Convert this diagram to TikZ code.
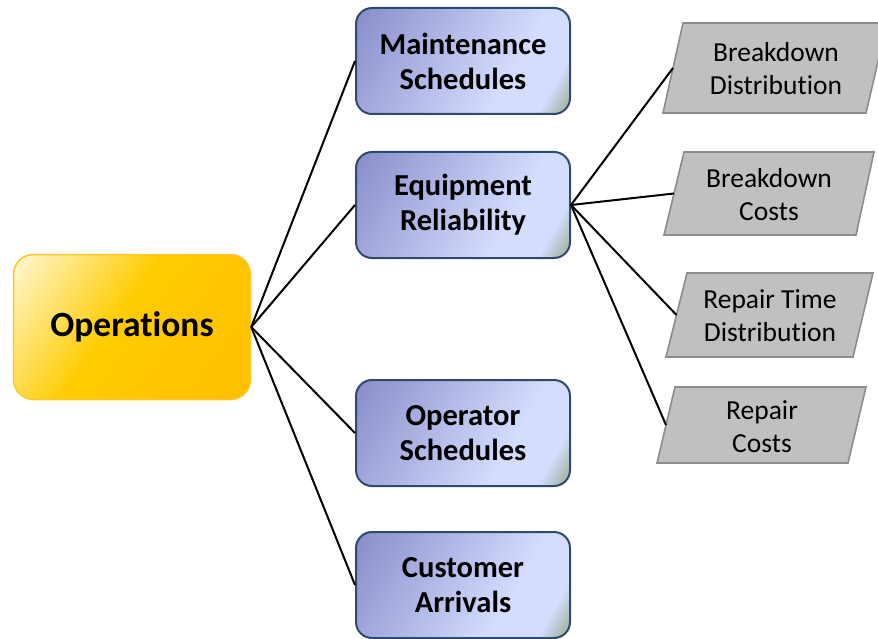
\documentclass[tikz,border=0pt]{standalone}
\usepackage{fontspec}
\setmainfont[Ligatures=NoCommon]{Carlito}
\definecolor{bdark}{HTML}{888DCA}
\definecolor{blight}{HTML}{D4DDFE}
\definecolor{bgreen}{HTML}{9FB29E}
\definecolor{bborder}{HTML}{2F4A6C}
\definecolor{ylight}{HTML}{FFF4C4}
\definecolor{ymid}{HTML}{FFCC00}
\definecolor{ydark}{HTML}{FFC000}
\definecolor{yborder}{HTML}{FFC72A}
\definecolor{gfill}{HTML}{C0C0C0}
\definecolor{gborder}{HTML}{8C8C8C}
\pgfdeclarehorizontalshading{blueshade}{100bp}{color(0bp)=(bdark); color(16bp)=(bdark); color(64bp)=(blight); color(76bp)=(blight); color(83bp)=(bgreen); color(100bp)=(bgreen)}
\pgfdeclarehorizontalshading{yellowshade}{100bp}{color(0bp)=(ylight); color(18bp)=(ylight); color(46bp)=(ymid); color(78bp)=(ydark); color(100bp)=(ydark)}
\tikzset{
  opsbox/.style={draw=yborder, line width=1.5pt, rounded corners=20pt, shading=yellowshade, shading angle=-35,
    minimum width=237pt, minimum height=145pt, align=center, font=\fontsize{35.5}{40}\selectfont\bfseries},
  bluebox/.style={draw=bborder, line width=2pt, rounded corners=16pt, shading=blueshade, shading angle=-30,
    minimum width=214pt, minimum height=106pt, align=center, font=\fontsize{30.5}{35}\selectfont\bfseries},
  gshape/.style={fill=gfill, draw=gborder, line width=1.6pt},
  gtext/.style={align=center, font=\fontsize{27.5}{33}\selectfont},
  conn/.style={line width=2pt, black}
}
\begin{document}
\begin{tikzpicture}[x=1pt,y=-1pt]
\useasboundingbox (0,0) rectangle (878,639);
\clip (0,0) rectangle (878,639);
% central node
\node[opsbox] (ops) at (132,327) {\raisebox{-2pt}{Operations}};
% blue boxes
\node[bluebox] (maint) at (463,61) {Maintenance\\Schedules};
\node[bluebox] (equip) at (463,205) {Equipment\\Reliability};
\node[bluebox] (oper) at (463,433) {Operator\\Schedules};
\node[bluebox] (cust) at (463,585) {Customer\\Arrivals};
% parallelograms
\draw[gshape] (683,23) -- (887,23) -- (866,113) -- (663,113) -- cycle;
\node[gtext] (bdist) at (776,69) {Breakdown\\Distribution};
\coordinate (bdistL) at (673,68);
\draw[gshape] (684,152) -- (874,152) -- (856,235) -- (664,235) -- cycle;
\node[gtext] (bcost) at (769,195) {Breakdown\\Costs};
\coordinate (bcostL) at (674,193.5);
\draw[gshape] (687,273) -- (873,273) -- (853,357) -- (666,357) -- cycle;
\node[gtext] (rtime) at (770,316) {Repair Time\\Distribution};
\coordinate (rtimeL) at (676.5,315);
\draw[gshape] (675,387) -- (866,387) -- (848,463) -- (657,463) -- cycle;
\node[gtext] (rcost) at (762,427) {Repair\\Costs};
\coordinate (rcostL) at (666,425);
% connectors
\foreach \t in {maint,equip,oper,cust} \draw[conn] (ops.east) -- (\t.west);
\foreach \t in {bdistL,bcostL,rtimeL,rcostL} \draw[conn] (equip.east) -- (\t);
\end{tikzpicture}
\end{document}
